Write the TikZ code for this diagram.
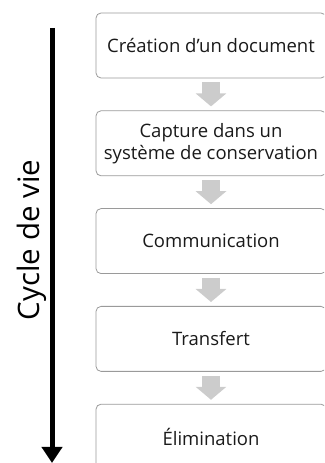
\documentclass[tikz,border=0pt]{standalone}
\usepackage{fontspec}
\setmainfont{Open Sans}
\usetikzlibrary{positioning,arrows.meta}
\definecolor{boxgrey}{HTML}{9A9A9A}
\definecolor{arrowgrey}{HTML}{CCCCCC}
\definecolor{textdark}{HTML}{1A1A1A}

\begin{document}
\begin{tikzpicture}[x=1pt,y=1pt,node distance=32pt,
  phase/.style={draw=boxgrey,line width=0.8pt,rounded corners=5pt,minimum width=230pt,
    minimum height=65pt,align=center,text=textdark,inner sep=1pt,
    font=\fontsize{18.5}{22}\selectfont},
  flow/.style={color=arrowgrey,line width=18pt,
    -{Triangle[width=30pt,length=13pt]},shorten <=4pt,shorten >=4pt}]
  \useasboundingbox (0,0) rectangle (324,463);
  \clip (0,0) rectangle (324,463);
  \node[phase] (create) at (211,417.5) {Création d’un document};
  \node[phase,below=of create] (capture) {Capture dans un\\système de conservation};
  \node[phase,below=of capture] (comm) {Communication};
  \node[phase,below=of comm] (transfer) {Transfert};
  \node[phase,below=of transfer] (elim) {Élimination};
  \path[flow]
    (create) edge (capture)
    (capture) edge (comm)
    (comm) edge (transfer)
    (transfer) edge (elim);
  \coordinate (start) at (52,435);
  \coordinate (end) at (52,0);
  \draw[line width=5pt,-{Triangle[width=20pt,length=16pt]}] (start) -- (end);
  \node[rotate=90,font=\fontsize{29.5}{33}\selectfont] (cycle) at (32,223) {Cycle de vie};
\end{tikzpicture}
\end{document}
